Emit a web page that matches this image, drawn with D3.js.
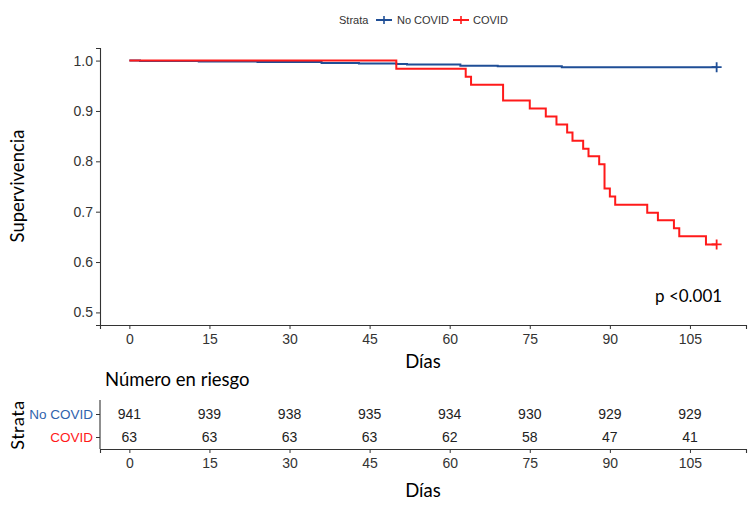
<!DOCTYPE html>
<html lang="es">
<head>
<meta charset="UTF-8">
<title>Supervivencia COVID</title>
<style>
  body { margin: 0; background: #fff; }
  svg { display: block; }
  .tick text { font-family: "Liberation Sans", Arial, sans-serif; font-size: 14px; fill: #333; }
  .title { font-family: Lato, "Open Sans", sans-serif; font-size: 18.5px; fill: #000; }
</style>
</head>
<body>
<svg width="750" height="507"></svg>
<script src="https://d3js.org/d3.v7.min.js"></script>
<script>
// survival curves
const noCovidTime = [0, 2, 13, 24, 36, 43, 50, 52, 62, 69, 81, 110];
const noCovidSurv = [1.000, 0.999, 0.998, 0.997, 0.995, 0.994, 0.993, 0.992, 0.990, 0.989, 0.987, 0.987];
const covidTime = [0, 50, 63, 64, 70, 75, 78, 80, 82, 83, 85, 86, 88, 89, 90, 91, 97, 99, 102, 103, 108, 110];
const covidSurv = [1.000, 0.984, 0.968, 0.952, 0.921, 0.905, 0.889, 0.873, 0.857, 0.841, 0.825, 0.810,
                   0.794, 0.746, 0.730, 0.714, 0.698, 0.683, 0.667, 0.651, 0.635, 0.635];

// risk table
const riskTimes = [0, 15, 30, 45, 60, 75, 90, 105];
const noCovidRisk = [941, 939, 938, 935, 934, 930, 929, 929];
const covidRisk = [63, 63, 63, 63, 62, 58, 47, 41];

const strata = ["No COVID", "COVID"];
const yTicks = [0.5, 0.6, 0.7, 0.8, 0.9, 1.0];

const lineColor = { "No COVID": "#1f4e96", "COVID": "#ff1a1a" };
const textColor = { "No COVID": "#2f63ad", "COVID": "#ff1a1a" };

const svg = d3.select("svg");

const x = d3.scaleLinear().domain([-5.5, 115.5]).range([100, 746]);
const y = d3.scaleLinear().domain([0.475, 1.025]).range([325, 48]);

// --- legend on top
const leg = svg.append("g").attr("transform", "translate(0,20)");
leg.append("text").attr("x", 339).attr("dy", "0.35em")
  .style("font-family", "Liberation Sans, Arial, sans-serif").style("font-size", "11px").style("fill", "#333")
  .text("Strata");
const legItems = [{ k: "No COVID", x0: 376, tx: 397 }, { k: "COVID", x0: 453, tx: 473 }];
legItems.forEach(it => {
  leg.append("line").attr("x1", it.x0).attr("x2", it.x0 + 16).attr("y1", 0).attr("y2", 0)
    .attr("stroke", lineColor[it.k]).attr("stroke-width", 2);
  leg.append("line").attr("x1", it.x0 + 8).attr("x2", it.x0 + 8).attr("y1", -4).attr("y2", 4)
    .attr("stroke", lineColor[it.k]).attr("stroke-width", 1.6);
  leg.append("text").attr("x", it.tx).attr("dy", "0.35em")
    .style("font-family", "Liberation Sans, Arial, sans-serif").style("font-size", "11px").style("fill", "#333")
    .text(it.k);
});

// --- main plot axes
const yAxis = svg.append("g").attr("transform", "translate(100,0)")
  .call(d3.axisLeft(y).tickValues(yTicks).tickFormat(d3.format(".1f")).tickSizeOuter(0).tickSize(4).tickPadding(3));
const xAxis = svg.append("g").attr("transform", "translate(0,325)")
  .call(d3.axisBottom(x).tickValues(riskTimes).tickSizeOuter(0).tickSize(4).tickPadding(5));
[yAxis, xAxis].forEach(a => {
  a.select(".domain").attr("stroke", "#333").attr("stroke-width", 1.1);
  a.selectAll(".tick line").attr("stroke", "#333");
});

svg.append("text").attr("class", "title")
  .attr("transform", "translate(24,186) rotate(-90)").attr("text-anchor", "middle")
  .text("Supervivencia");
svg.append("text").attr("class", "title").attr("x", 423).attr("y", 368).attr("text-anchor", "middle").text("Días");

// --- curves
const line = d3.line().x(d => x(d[0])).y(d => y(d[1])).curve(d3.curveStepAfter);
const curves = [
  { k: "No COVID", t: noCovidTime, s: noCovidSurv },
  { k: "COVID", t: covidTime, s: covidSurv }
];
curves.forEach(c => {
  const pts = c.t.map((t, i) => [t, c.s[i]]);
  svg.append("path").datum(pts).attr("d", line)
    .attr("fill", "none").attr("stroke", lineColor[c.k]).attr("stroke-width", 2);
  const last = pts[pts.length - 1];
  const cx = x(last[0]), cy = y(last[1]);
  svg.append("path").attr("d", `M${cx - 5},${cy}H${cx + 5}M${cx},${cy - 5}V${cy + 5}`)
    .attr("stroke", lineColor[c.k]).attr("stroke-width", 1.8);
});

svg.append("text").attr("x", 655).attr("y", 302)
  .style("font-family", "Lato, 'Open Sans', sans-serif").style("font-size", "17px").style("fill", "#000")
  .text("p <0.001");

// --- risk table
svg.append("text").attr("class", "title").attr("x", 105).attr("y", 386).text("Número en riesgo");

const yr = d3.scalePoint().domain(strata).range([414, 437]);
const tAxisY = svg.append("g").attr("transform", "translate(100,0)")
  .call(d3.axisLeft(yr).tickSize(4).tickPadding(3));
tAxisY.select(".domain").attr("d", "M0,400V449").attr("stroke", "#333").attr("stroke-width", 1.1);
tAxisY.selectAll(".tick line").attr("stroke", "#333");
tAxisY.selectAll(".tick text").style("fill", d => textColor[d]).style("font-size", "13.5px");

const tAxisX = svg.append("g").attr("transform", "translate(0,449)")
  .call(d3.axisBottom(x).tickValues(riskTimes).tickSizeOuter(0).tickSize(4).tickPadding(5));
tAxisX.select(".domain").attr("stroke", "#333").attr("stroke-width", 1.1);
tAxisX.selectAll(".tick line").attr("stroke", "#333");

const riskRows = [{ k: "No COVID", v: noCovidRisk }, { k: "COVID", v: covidRisk }];
riskRows.forEach(r => {
  svg.append("g").selectAll("text").data(r.v).join("text")
    .attr("x", (d, i) => x(riskTimes[i])).attr("y", yr(r.k)).attr("dy", "0.35em")
    .attr("text-anchor", "middle")
    .style("font-family", "Liberation Sans, Arial, sans-serif").style("font-size", "14px").style("fill", "#222")
    .text(d => d);
});

svg.append("text").attr("class", "title")
  .attr("transform", "translate(24,425) rotate(-90)").attr("text-anchor", "middle")
  .style("font-size", "18px").style("letter-spacing", "0.5px")
  .text("Strata");
svg.append("text").attr("class", "title").attr("x", 423).attr("y", 497).attr("text-anchor", "middle").text("Días");
</script>
</body>
</html>
